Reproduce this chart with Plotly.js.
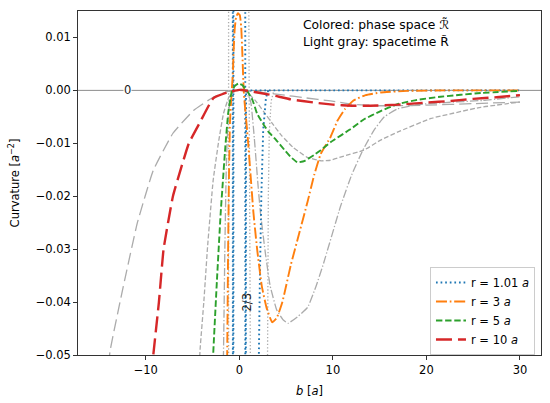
<!DOCTYPE html>
<html>
<head>
<meta charset="utf-8">
<script src="https://cdn.plot.ly/plotly-3.0.1.min.js"></script>
<style>
html,body{margin:0;padding:0;background:#fff;}
#chart{width:550px;height:403px;}
</style>
</head>
<body>
<div id="chart"></div>
<script>
// ---------- data ----------
// r = 1.01 a : phase space (blue dotted)
var b_r101 = [-0.70, -0.69, null, -0.64, -0.63, null, 0.63, 0.64, null, 0.69, 0.70, 0.72, 1.0, 2.0, 3.0, 5, 10, 20, 30, null, 3.1, 2.85, 2.55, 2.35, 2.2, 2.05];
var phase_r101 = [0.02, -0.06, null, -0.06, 0.02, null, 0.02, -0.06, null, -0.06, -0.02, 0.0, 0.0, 0.0, 0.0, 0.0, 0.0, 0.0, 0.0, null, 0.0, -0.0013, -0.0075, -0.02, -0.035, -0.055];
// r = 1.01 a : spacetime (gray dotted)
var bs_r101 = [-1.15, -1.15, null, 1.0, 1.05, 1.2, null, 30, 3.7, 3.4, 3.2, 3.1, 3.0];
var space_r101 = [0.02, -0.06, null, 0.02, 0.0, -0.06, null, 0.0, 0.0, -0.002, -0.008, -0.02, -0.055];

// r = 3 a : phase space (orange dash-dot)
var b_r3 = [-1.35, -1.3, -1.2, -1.1, -1.0, -0.85, -0.7, -0.6, -0.5, -0.35, -0.15, 0.05, 0.2, 0.32, 0.42, 0.5, 0.65, 0.9, 1.2, 1.5, 1.9, 2.4, 2.9, 3.5, 4.0, 4.6, 5.5, 6.4, 7.3, 8.0, 8.7, 9.75, 10.5, 11.3, 12.2, 13.5, 15.1, 18, 22, 30];
var phase_r3 = [-0.058, -0.050, -0.030, -0.015, -0.006, -0.001, 0.003, 0.008, 0.0115, 0.0138, 0.0146, 0.0142, 0.012, 0.007, 0.002, -0.001, -0.004, -0.009, -0.016, -0.023, -0.030, -0.037, -0.041, -0.0438, -0.043, -0.040, -0.033, -0.027, -0.021, -0.016, -0.012, -0.0088, -0.0057, -0.0035, -0.0019, -0.0009, -0.0004, -0.0001, 0.0, 0.0];
// r = 3 a : spacetime (gray dash-dot)
var bs_r3 = [-1.8, -1.7, -1.55, -1.4, -1.2, -0.9, -0.4, 0.1, 0.6, 1.2, 1.6, 2.0, 2.25, 2.8, 3.3, 4.0, 4.7, 5.2, 6.2, 7.3, 8.2, 9.0, 10.8, 12.0, 13.2, 14.4, 15.5, 16.9, 19, 22, 26, 30];
var space_r3 = [-0.056, -0.050, -0.030, -0.015, -0.005, -0.001, 0.0, 0.0003, 0.0, -0.002, -0.009, -0.018, -0.023, -0.031, -0.037, -0.0415, -0.0434, -0.044, -0.0428, -0.041, -0.037, -0.0327, -0.022, -0.016, -0.0113, -0.0075, -0.005, -0.0035, -0.0027, -0.0023, -0.0019, -0.0012];

// r = 5 a : phase space (green dashed)
var b_r5 = [-2.85, -2.8, -2.4, -2.0, -1.5, -1.2, -0.85, -0.5, -0.1, 0.3, 0.6, 0.8, 1.4, 1.9, 2.5, 3.1, 3.9, 4.8, 5.5, 6.2, 7.0, 8.0, 8.7, 9.75, 11.9, 13.3, 15, 16.9, 19, 21.5, 25.8, 30];
var phase_r5 = [-0.053, -0.050, -0.036, -0.0233, -0.0107, -0.0044, -0.0005, 0.0008, 0.0013, 0.0010, 0.0004, 0.0, -0.0018, -0.0044, -0.0062, -0.0078, -0.0093, -0.0112, -0.0126, -0.0136, -0.0133, -0.0122, -0.0113, -0.0098, -0.0073, -0.0055, -0.0040, -0.0026, -0.0018, -0.0012, -0.0005, -0.0001];
// r = 5 a : spacetime (gray dashed)
var bs_r5 = [-4.3, -4.2, -3.8, -3.4, -2.8, -2.2, -1.7, -1.1, -0.5, 0.2, 0.9, 1.7, 2.6, 3.5, 4.5, 5.7, 7.2, 8.7, 9.75, 11, 13.3, 15.1, 16.9, 20.5, 25.8, 30];
var space_r5 = [-0.053, -0.049, -0.040, -0.0296, -0.017, -0.0095, -0.0044, -0.0012, -0.0001, 0.0002, -0.0005, -0.0019, -0.0040, -0.0062, -0.0085, -0.0107, -0.0126, -0.0133, -0.0132, -0.0125, -0.0113, -0.0094, -0.0079, -0.0053, -0.0032, -0.0022];

// r = 10 a : phase space (red long dash)
var b_r10 = [-9.4, -9.2, -8.6, -8.1, -7.1, -6.2, -5.4, -4.2, -2.8, -1.3, 0, 1.0, 2.25, 3.5, 5.5, 8, 10, 12, 14, 17, 20, 22.6, 25, 27.5, 30];
var phase_r10 = [-0.054, -0.050, -0.040, -0.030, -0.020, -0.0145, -0.010, -0.0060, -0.0015, -0.0004, 0.0001, -0.0001, -0.0005, -0.0009, -0.0017, -0.0023, -0.0027, -0.0029, -0.0029, -0.0027, -0.0023, -0.0020, -0.0016, -0.0013, -0.0009];
// r = 10 a : spacetime (gray long dash)
var bs_r10 = [-14.2, -13.8, -12.4, -10.9, -9.2, -7.1, -4.9, -2.8, -1.2, 0, 1.5, 3.0, 4.4, 7, 9.75, 12, 15, 20, 25, 30];
var space_r10 = [-0.055, -0.049, -0.037, -0.025, -0.0151, -0.0081, -0.0038, -0.0013, -0.0002, 0.0, -0.0002, -0.0005, -0.0008, -0.0014, -0.0020, -0.0026, -0.0029, -0.0028, -0.0025, -0.0022];

var legendLabels = ['r = 1.01 <i>a</i>', 'r = 3 <i>a</i>', 'r = 5 <i>a</i>', 'r = 10 <i>a</i>'];
var xTicks = [-10, 0, 10, 20, 30];
var yTicks = [-0.05, -0.04, -0.03, -0.02, -0.01, 0.00, 0.01];

// ---------- styles ----------
var GRAY = '#ababab';
function tr(x, y, color, width, dash, name, show, shape) {
  return {
    x: x, y: y, type: 'scatter', mode: 'lines', name: name || '',
    showlegend: !!show, hoverinfo: 'skip',
    line: {color: color, width: width, dash: dash, shape: shape || 'spline', smoothing: 0.35}
  };
}

var data = [
  tr(bs_r10, space_r10, GRAY, 1.3, '12px,5px'),
  tr(bs_r5, space_r5, GRAY, 1.3, '4.8px,2.2px'),
  tr(bs_r3, space_r3, GRAY, 1.3, '8.3px,2.1px,1.3px,2.1px'),
  tr(bs_r101, space_r101, GRAY, 1.3, '1.3px,2.1px', '', false, 'linear'),
  tr(b_r101, phase_r101, '#1f77b4', 1.9, '1.7px,2.9px', legendLabels[0], true, 'linear'),
  tr(b_r3, phase_r3, '#ff7f0e', 1.9, '11px,2.75px,1.7px,2.75px', legendLabels[1], true),
  tr(b_r5, phase_r5, '#2ca02c', 1.9, '6.4px,2.75px', legendLabels[2], true),
  tr(b_r10, phase_r10, '#d62728', 2.4, '16px,6px', legendLabels[3], true)
];

var FONT = 'DejaVu Sans, Verdana, sans-serif';
var layout = {
  width: 550, height: 403,
  margin: {l: 78, r: 9, t: 11, b: 48, pad: 0},
  paper_bgcolor: '#ffffff', plot_bgcolor: '#ffffff',
  font: {family: FONT, size: 11.5, color: '#000'},
  showlegend: true,
  xaxis: {
    range: [-17.25, 32.25], tickvals: xTicks, ticktext: xTicks.map(function(v){return v<0?'\u2212'+(-v):String(v);}),
    ticks: 'outside', ticklen: 4, tickwidth: 0.8, tickcolor: '#000',
    showline: true, linecolor: '#000', linewidth: 0.8, mirror: true,
    showgrid: false, zeroline: false, automargin: false,
    tickfont: {family: FONT, size: 11.5, color: '#000'},
    title: {text: '<i>b</i> [<i>a</i>]', standoff: 11, font: {family: FONT, size: 11.5, color: '#000'}}
  },
  yaxis: {
    range: [-0.05, 0.015], tickvals: yTicks, tickformat: '.2f',
    ticks: 'outside', ticklen: 4, tickwidth: 0.8, tickcolor: '#000',
    showline: true, linecolor: '#000', linewidth: 0.8, mirror: true,
    showgrid: false, zeroline: false, automargin: false,
    tickfont: {family: FONT, size: 11.5, color: '#000'},
    title: {text: 'Curvature [<i>a</i><sup>\u22122</sup>]', standoff: 13, font: {family: FONT, size: 11.5, color: '#000'}}
  },
  legend: {
    x: 0.987, xanchor: 'right', y: 0.0, yanchor: 'bottom',
    bgcolor: 'rgba(255,255,255,0.85)', bordercolor: '#cccccc', borderwidth: 1,
    font: {family: FONT, size: 11.5, color: '#000'}, tracegroupgap: 0
  },
  shapes: [
    {type: 'line', xref: 'paper', x0: 0, x1: 1, yref: 'y', y0: 0, y1: 0,
     line: {color: '#8c8c8c', width: 1}, layer: 'below'}
  ],
  annotations: [
    {xref: 'paper', yref: 'paper', x: 0.482, y: 0.962, xanchor: 'left', yanchor: 'middle',
     showarrow: false, text: 'Colored: phase space \u211B\u0303', font: {family: FONT, size: 12.3, color: '#000'}},
    {xref: 'paper', yref: 'paper', x: 0.482, y: 0.910, xanchor: 'left', yanchor: 'middle',
     showarrow: false, text: 'Light gray: spacetime R\u0303', font: {family: FONT, size: 12.3, color: '#000'}},
    {xref: 'x', yref: 'y', x: -12, y: 0, showarrow: false, text: '0', bgcolor: '#ffffff',
     borderpad: 0, font: {family: FONT, size: 11.5, color: '#222'}},
    {xref: 'x', yref: 'y', x: 0.86, y: -0.040, showarrow: false, text: '2/3', textangle: -90,
     borderpad: 0, font: {family: FONT, size: 11.5, color: '#222'}}
  ]
};

Plotly.newPlot('chart', data, layout, {staticPlot: true, displayModeBar: false});
</script>
</body>
</html>
